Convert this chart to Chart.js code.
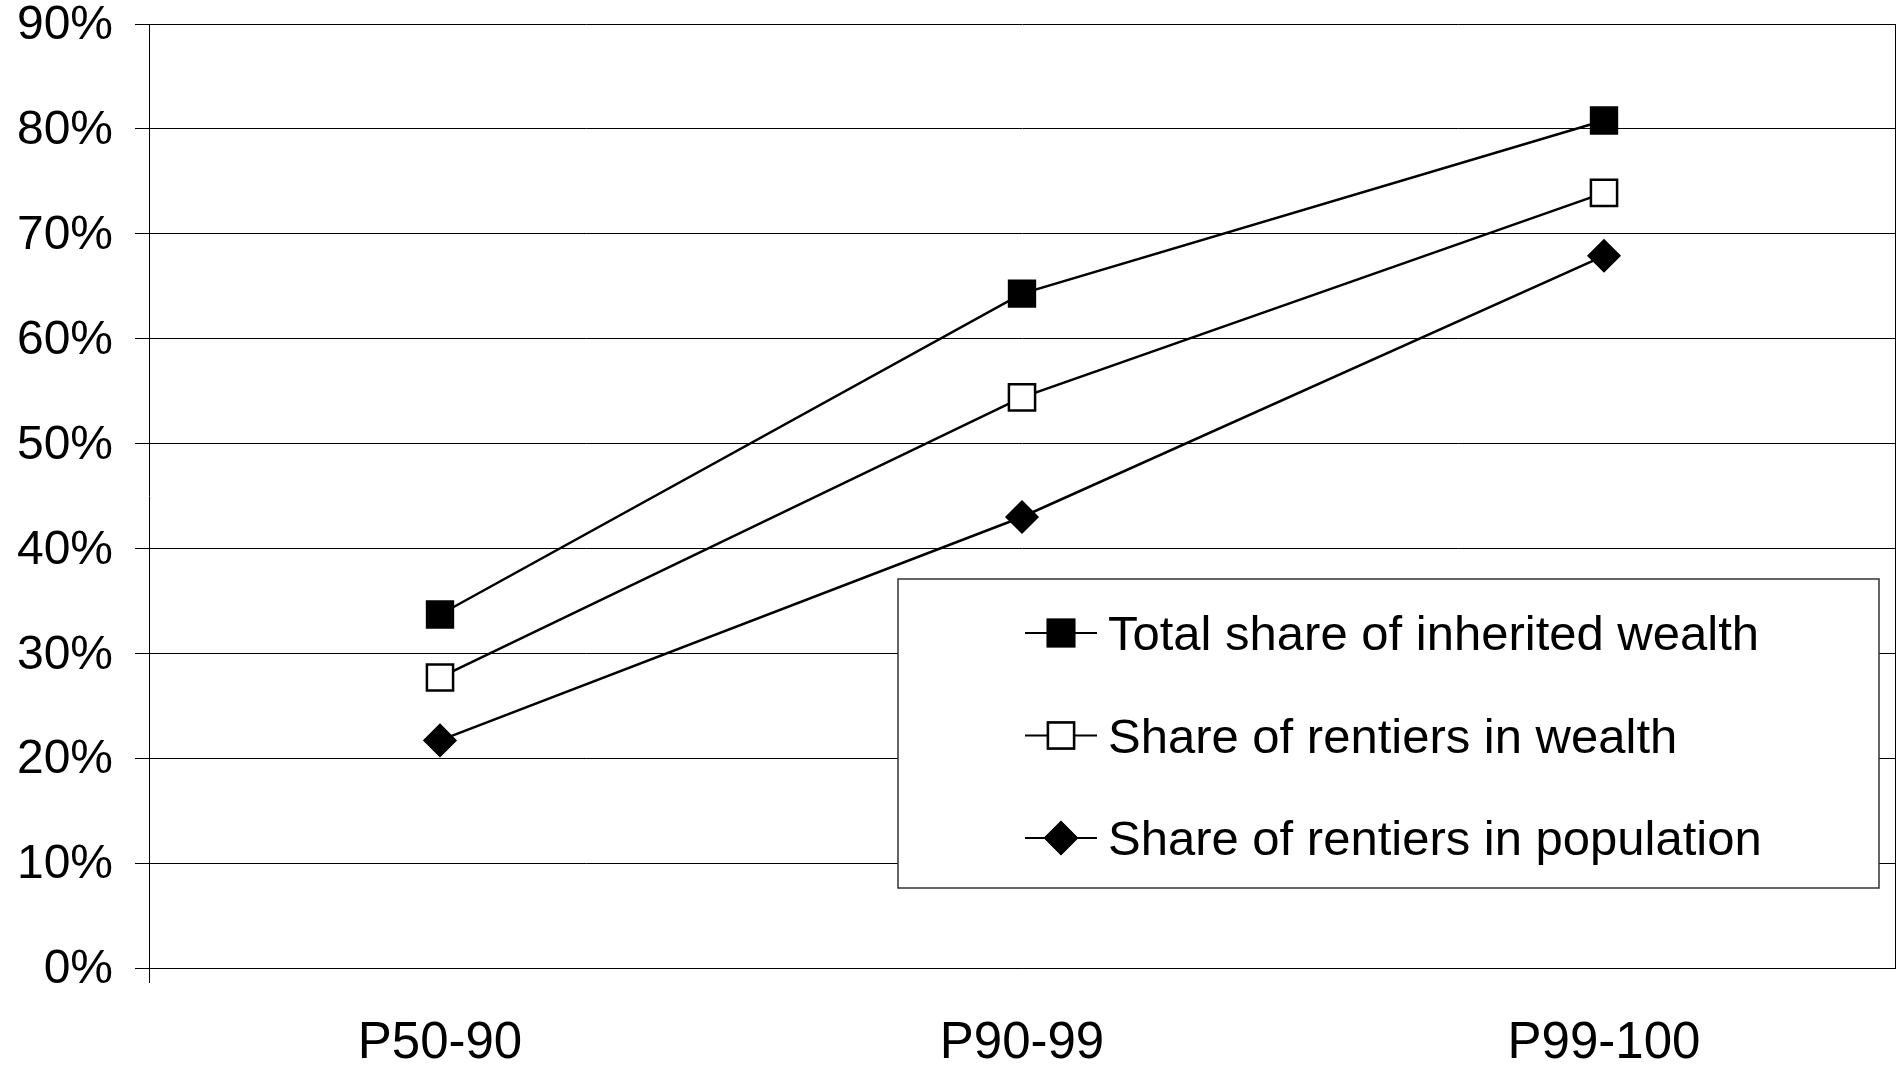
<!DOCTYPE html>
<html>
<head>
<meta charset="utf-8">
<script src="https://cdn.jsdelivr.net/npm/chart.js@4/dist/chart.umd.min.js"></script>
<style>
  html, body { margin: 0; padding: 0; background: #fff; overflow: hidden; }
  #wrap { width: 1903px; height: 1073px; position: relative; }
  canvas { display: block; }
</style>
</head>
<body>
<div id="wrap"><canvas id="chart"></canvas></div>
<script>
// --- DATA ---
const categories = ['P50-90', 'P90-99', 'P99-100'];
const totalInherited = [33.7, 64.3, 80.8];
const rentiersWealth = [27.7, 54.4, 73.9];
const rentiersPopulation = [21.7, 43.0, 67.9];
const seriesNames = [
    'Total share of inherited wealth',
    'Share of rentiers in wealth',
    'Share of rentiers in population'
];
const yMin = 0, yMax = 90, yStep = 10;

const FONT = '"Liberation Sans", Arial, sans-serif';

// --- RIGHT FRAME LINE ---
const rightFrame = {
    id: 'rightFrame',
    beforeDatasetsDraw(chart) {
        const a = chart.chartArea;
        const ctx = chart.ctx;
        ctx.save();
        ctx.strokeStyle = '#000';
        ctx.lineWidth = 1;
        ctx.beginPath();
        ctx.moveTo(Math.round(a.right) + 0.5, a.top);
        ctx.lineTo(Math.round(a.right) + 0.5, a.bottom);
        ctx.stroke();
        ctx.restore();
    }
};

// --- LEGEND BOX (drawn inside the plot, like the original) ---
const boxLegend = {
    id: 'boxLegend',
    afterDraw(chart) {
        const ctx = chart.ctx;
        const left = 898, top = 579, right = 1879, bottom = 888;
        ctx.save();
        ctx.fillStyle = '#fff';
        ctx.fillRect(left, top, right - left, bottom - top);
        ctx.strokeStyle = '#333';
        ctx.lineWidth = 1.5;
        ctx.strokeRect(left, top, right - left, bottom - top);

        chart.data.datasets.forEach((ds, i) => {
            const y = 633 + i * 102.5;
            const cx = 1061;
            // line through marker
            ctx.strokeStyle = '#000';
            ctx.lineWidth = 2;
            ctx.beginPath();
            ctx.moveTo(1025, y);
            ctx.lineTo(1097, y);
            ctx.stroke();
            // marker
            Chart.helpers.drawPoint(ctx, {
                pointStyle: ds.pointStyle,
                radius: ds.pointRadius,
                rotation: 0,
                borderWidth: ds.pointBorderWidth
            }, cx, y);
            ctx.fillStyle = ds.pointBackgroundColor;
            ctx.strokeStyle = ds.pointBorderColor;
            ctx.lineWidth = ds.pointBorderWidth;
            ctx.fill();
            ctx.stroke();
            // label
            ctx.fillStyle = '#000';
            ctx.font = '49px ' + FONT;
            ctx.textAlign = 'left';
            ctx.textBaseline = 'alphabetic';
            ctx.fillText(ds.label, 1108, y + 17);
        });
        ctx.restore();
    }
};

function makeSet(label, data, style, radius, fill, bw) {
    return {
        label: label,
        data: data,
        borderColor: '#000',
        borderWidth: 2.5,
        tension: 0,
        fill: false,
        pointStyle: style,
        pointRadius: radius,
        pointHoverRadius: radius,
        pointBackgroundColor: fill,
        pointBorderColor: '#000',
        pointBorderWidth: bw
    };
}

new Chart(document.getElementById('chart'), {
    type: 'line',
    data: {
        labels: categories,
        datasets: [
            makeSet(seriesNames[0], totalInherited, 'rect', 19, '#000', 1.5),
            makeSet(seriesNames[1], rentiersWealth, 'rect', 18.5, '#fff', 2.5),
            makeSet(seriesNames[2], rentiersPopulation, 'rectRot', 16, '#000', 1.5)
        ]
    },
    options: {
        responsive: true,
        maintainAspectRatio: false,
        animation: false,
        devicePixelRatio: 1,
        layout: { autoPadding: false, padding: { top: 24, left: 0, right: 8, bottom: 0 } },
        plugins: {
            legend: { display: false },
            tooltip: { enabled: false }
        },
        scales: {
            x: {
                offset: true,
                grid: {
                    offset: true,
                    drawOnChartArea: false,
                    tickLength: 15,
                    color: (c) => c.index === 0 ? '#000' : 'rgba(0,0,0,0)',
                    lineWidth: 1
                },
                border: { display: true, color: '#000', width: 1 },
                ticks: {
                    color: '#000',
                    font: { family: FONT, size: 51 },
                    padding: 30,
                    maxRotation: 0
                },
                afterFit: (s) => { s.height = 105; s.paddingLeft = 0; s.paddingRight = 0; }
            },
            y: {
                min: yMin,
                max: yMax,
                ticks: {
                    stepSize: yStep,
                    color: '#000',
                    font: { family: FONT, size: 48 },
                    padding: 22,
                    labelOffset: 2,
                    callback: (v) => v + '%'
                },
                grid: { color: '#000', lineWidth: 1, tickLength: 14 },
                border: { display: true, color: '#000', width: 1 },
                afterFit: (s) => { s.width = 149; s.paddingTop = 0; s.paddingBottom = 0; }
            }
        }
    },
    plugins: [rightFrame, boxLegend]
});
</script>
</body>
</html>
